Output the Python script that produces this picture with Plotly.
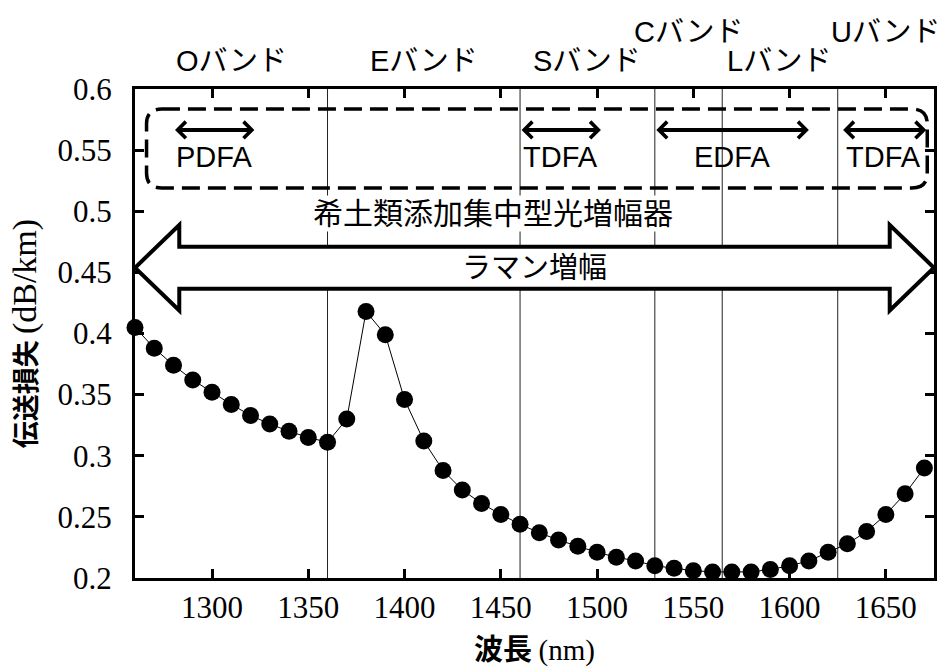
import plotly.graph_objects as go

# ---------------- data ----------------
wavelength = [1260, 1270, 1280, 1290, 1300, 1310, 1320, 1330, 1340, 1350,
              1360, 1370, 1380, 1390, 1400, 1410, 1420, 1430, 1440, 1450,
              1460, 1470, 1480, 1490, 1500, 1510, 1520, 1530, 1540, 1550,
              1560, 1570, 1580, 1590, 1600, 1610, 1620, 1630, 1640, 1650,
              1660, 1670]
loss = [0.405, 0.388, 0.374, 0.362, 0.352, 0.342, 0.333, 0.326, 0.320, 0.315,
        0.311, 0.330, 0.418, 0.399, 0.346, 0.312, 0.288, 0.272, 0.261, 0.252,
        0.244, 0.237, 0.231, 0.226, 0.221, 0.217, 0.214, 0.210, 0.208, 0.206,
        0.205, 0.205, 0.205, 0.207, 0.210, 0.214, 0.221, 0.228, 0.238, 0.252,
        0.269, 0.290]

band_names = ["Oバンド", "Eバンド", "Sバンド", "Cバンド", "Lバンド", "Uバンド"]
band_edges = [1260, 1360, 1460, 1530, 1565, 1625, 1675]
band_row = [0, 0, 0, 1, 0, 1]

amp_names = ["PDFA", "TDFA", "EDFA", "TDFA"]
amp_start = [1280, 1460, 1530, 1627]
amp_end = [1322, 1502, 1610, 1671]
amp_arrow_y = 0.5665
amp_label_y = 0.544

rare_earth_label = "希土類添加集中型光増幅器"
rare_earth_box_x = [1266, 1671.5]
rare_earth_box_y = [0.519, 0.5836]
rare_earth_label_pos = [1446, 0.498]

raman_label = "ラマン増幅"
raman_range = [1260, 1675]
raman_center_y = 0.4538

x_ticks = [1300, 1350, 1400, 1450, 1500, 1550, 1600, 1650]
x_ticktext = ["1300", "1350", "1400", "1450", "1500", "1550", "1600", "1650"]
y_ticks = [0.2, 0.25, 0.3, 0.35, 0.4, 0.45, 0.5, 0.55, 0.6]
y_ticktext = ["0.2", "0.25", "0.3", "0.35", "0.4", "0.45", "0.5", "0.55", "0.6"]

# ---------------- figure ----------------
SANS = "Liberation Sans, Noto Sans CJK JP, sans-serif"
SERIF = "Liberation Serif"
CJK = "Noto Sans CJK JP"


def serif(t):
    return f"<span style='font-family:Liberation Serif'>{t}</span>"


fig = go.Figure()
fig.add_trace(go.Scatter(
    x=wavelength, y=loss, mode="lines+markers",
    line=dict(color="black", width=1),
    marker=dict(color="black", size=17),
    cliponaxis=False, showlegend=False,
))

shapes = []
# band boundary lines
for e in band_edges[1:-1]:
    shapes.append(dict(type="line", xref="x", yref="paper", x0=e, x1=e, y0=0, y1=1,
                       line=dict(color="#222", width=1), layer="below"))

# dashed rounded box
x0, x1 = rare_earth_box_x
y0, y1 = rare_earth_box_y
rx, ry = 8, 0.012
box_path = (f"M {x0+rx},{y1} L {x1-rx},{y1} Q {x1},{y1} {x1},{y1-ry} "
            f"L {x1},{y0+ry} Q {x1},{y0} {x1-rx},{y0} L {x0+rx},{y0} "
            f"Q {x0},{y0} {x0},{y0+ry} L {x0},{y1-ry} Q {x0},{y1} {x0+rx},{y1} Z")
shapes.append(dict(type="path", xref="x", yref="y", path=box_path,
                   line=dict(color="black", width=3.5, dash="18px,8px"), layer="above"))

# Raman block double arrow
ra0, ra1 = raman_range
yc = raman_center_y
head_len = 23
body_h = 0.0172
head_h = 0.035
hl, hr = ra0 + head_len, ra1 - head_len
raman_path = (f"M {ra0},{yc} L {hl},{yc+head_h} L {hl},{yc+body_h} L {hr},{yc+body_h} "
              f"L {hr},{yc+head_h} L {ra1},{yc} L {hr},{yc-head_h} L {hr},{yc-body_h} "
              f"L {hl},{yc-body_h} L {hl},{yc-head_h} Z")
shapes.append(dict(type="path", xref="x", yref="y", path=raman_path,
                   fillcolor="white", line=dict(color="black", width=4), layer="above"))

annotations = []
# band labels
row_y = [1.058, 1.116]
for name, a, b, r in zip(band_names, band_edges[:-1], band_edges[1:], band_row):
    annotations.append(dict(x=(a + b) / 2, y=row_y[r], xref="x", yref="paper",
                            text=name, showarrow=False, xanchor="center", yanchor="middle",
                            font=dict(family=SANS, size=29, color="black")))
# amplifier arrows and labels
for name, s, e in zip(amp_names, amp_start, amp_end):
    annotations.append(dict(x=e, y=amp_arrow_y, ax=s, ay=amp_arrow_y,
                            xref="x", yref="y", axref="x", ayref="y", text="",
                            showarrow=True, arrowhead=4, startarrowhead=4,
                            arrowside="end+start", arrowwidth=4, arrowsize=0.8,
                            startarrowsize=0.8, arrowcolor="black",
                            standoff=0, startstandoff=0))
    annotations.append(dict(x=(s + e) / 2, y=amp_label_y, xref="x", yref="y",
                            text=name, showarrow=False, xanchor="center", yanchor="middle",
                            font=dict(family=SANS, size=29, color="black")))
annotations.append(dict(x=rare_earth_label_pos[0], y=rare_earth_label_pos[1], xref="x", yref="y",
                        text=rare_earth_label, showarrow=False, bgcolor="white", borderpad=1,
                        font=dict(family=SANS, size=30, color="black")))
annotations.append(dict(x=(ra0 + ra1) / 2, y=yc, xref="x", yref="y",
                        text=raman_label, showarrow=False,
                        font=dict(family=SANS, size=29, color="black")))

fig.update_layout(
    width=943, height=668,
    margin=dict(l=135, r=6, t=89, b=83),
    paper_bgcolor="white", plot_bgcolor="white",
    font=dict(family=SERIF, size=30, color="black"),
    shapes=shapes, annotations=annotations,
    xaxis=dict(range=[1260, 1675], tickvals=x_ticks, ticktext=[serif(t) for t in x_ticktext],
               ticks="inside", ticklen=9,
               tickwidth=3, tickcolor="black", showline=True, linewidth=3,
               linecolor="black", mirror="allticks", showgrid=False, zeroline=False,
               tickfont=dict(family=SERIF, size=31, color="black"),
               title=dict(text="<b>波長</b> " + serif("(nm)"),
                          font=dict(family=CJK, size=29, color="black"), standoff=16)),
    yaxis=dict(range=[0.2, 0.6], tickvals=y_ticks, ticktext=[serif(t) for t in y_ticktext],
               ticks="inside",
               ticklen=9, tickwidth=3, tickcolor="black", showline=True, linewidth=3,
               linecolor="black", mirror="allticks", showgrid=False, zeroline=False,
               ticklabelstandoff=14,
               tickfont=dict(family=SERIF, size=31, color="black"),
               title=dict(text="<b>伝送損失</b> <span style='font-family:Liberation Serif;font-size:34px'>(dB/km)</span>",
                          font=dict(family=CJK, size=27, color="black"), standoff=14)),
)

fig.write_html("out.html")
